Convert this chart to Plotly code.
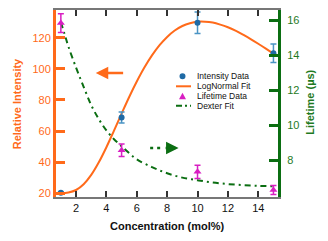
import plotly.graph_objects as go

# ---- data ----
conc = [1, 5, 10, 15]
intensity = [20.4, 68.7, 129.6, 110.0]
intensity_err = [0.5, 3.6, 6.9, 6.0]
lifetime = [15.85, 8.57, 7.33, 6.29]
lifetime_err = [0.54, 0.36, 0.38, 0.26]

lognorm_x = [1, 1.5, 2, 2.5, 3, 3.5, 4, 4.5, 5, 5.5, 6, 6.5, 7, 7.5, 8, 8.5, 9,
             9.5, 10, 10.5, 11, 11.5, 12, 12.5, 13, 13.5, 14, 14.5, 15]
lognorm_y = [20.0, 20.5, 22.1, 25.8, 31.8, 39.9, 49.6, 60.3, 71.2, 81.9, 91.8,
             100.8, 108.6, 115.2, 120.5, 124.6, 127.5, 129.3, 130.3, 130.3,
             129.7, 128.4, 126.7, 124.5, 121.9, 119.1, 116.1, 113.0, 109.7]

dexter_x = [1.0, 1.25, 1.5, 2.0, 2.5, 3.0, 3.5, 4.0, 4.5, 5.0, 5.5, 6.0, 7.0,
            8.0, 9.0, 10, 11, 12, 13, 14, 15]
dexter_y = [15.9, 15.2, 14.5, 13.3, 12.2, 11.15, 10.35, 9.7, 9.2, 8.8, 8.4,
            8.05, 7.6, 7.25, 7.0, 6.85, 6.72, 6.63, 6.57, 6.53, 6.5]

x_ticks = [2, 4, 6, 8, 10, 12, 14]
y_ticks = [20, 40, 60, 80, 100, 120]
y2_ticks = [8, 10, 12, 14, 16]

ORANGE = "#ff6a1a"
GREEN = "#0b6e12"
GREEN_TXT = "#1f7a1f"
BLUE = "#1f6aa5"
BLUE_ERR = "#4a94c4"
MAGENTA = "#d81fc2"
FONT = "Liberation Sans, Arial, sans-serif"

fig = go.Figure()

fig.add_trace(go.Scatter(x=lognorm_x, y=lognorm_y, mode="lines", line_shape="spline",
                         line=dict(color=ORANGE, width=2), name="LogNormal Fit"))
fig.add_trace(go.Scatter(x=conc, y=intensity, mode="markers",
                         marker=dict(color=BLUE, size=6, symbol="circle"),
                         error_y=dict(type="data", array=intensity_err, color=BLUE_ERR,
                                      thickness=1.5, width=3),
                         name="Intensity Data"))
fig.add_trace(go.Scatter(x=dexter_x, y=dexter_y, mode="lines", line_shape="spline",
                         line=dict(color=GREEN, width=2, dash="6px,4px,2px,4px"),
                         yaxis="y2", name="Dexter Fit"))
fig.add_trace(go.Scatter(x=conc, y=lifetime, mode="markers",
                         marker=dict(color=MAGENTA, size=7, symbol="triangle-up"),
                         error_y=dict(type="data", array=lifetime_err, color=MAGENTA,
                                      thickness=1.5, width=3),
                         yaxis="y2", name="Lifetime Data"))

L, R, T, B = 56, 278, 9.5, 197
W, H = R - L, B - T


def px(xp):
    return (xp - L) / W


def py(yp):
    return (B - yp) / H


shapes = []
annotations = []

# manual legend
leg_items = [("Intensity Data", 76), ("LogNormal Fit", 86), ("Lifetime Data", 96), ("Dexter Fit", 105.5)]
for text, yy in leg_items:
    annotations.append(dict(x=px(195), y=py(yy), xref="paper", yref="paper", text=text,
                            showarrow=False, xanchor="left", yanchor="middle",
                            font=dict(family=FONT, size=8.5, color="#111")))
shapes.append(dict(type="circle", xref="paper", yref="paper", x0=px(179.5), x1=px(185.5),
                   y0=py(79), y1=py(73), fillcolor=BLUE, line=dict(width=0)))
shapes.append(dict(type="line", xref="paper", yref="paper", x0=px(176), x1=px(191),
                   y0=py(86), y1=py(86), line=dict(color=ORANGE, width=2)))
shapes.append(dict(type="path", xref="paper", yref="paper",
                   path=f"M {px(179)},{py(99)} L {px(186)},{py(99)} L {px(182.5)},{py(92.5)} Z",
                   fillcolor=MAGENTA, line=dict(width=0)))
shapes.append(dict(type="line", xref="paper", yref="paper", x0=px(176), x1=px(191),
                   y0=py(105.5), y1=py(105.5), line=dict(color=GREEN, width=2, dash="6px,3px,2px,3px")))

# arrows
annotations.append(dict(x=3.3, y=97.3, ax=5.2, ay=97.3, xref="x", yref="y", axref="x", ayref="y",
                        showarrow=True, arrowhead=2, arrowsize=1, arrowwidth=2.5,
                        arrowcolor=ORANGE, text=""))
shapes.append(dict(type="line", xref="x", yref="y2", x0=6.88, x1=7.6, y0=8.7, y1=8.7,
                   line=dict(color=GREEN, width=2.5, dash="3px,4px")))
annotations.append(dict(x=8.75, y=8.7, ax=7.8, ay=8.7, xref="x", yref="y2", axref="x", ayref="y2",
                        showarrow=True, arrowhead=2, arrowsize=1, arrowwidth=2.5,
                        arrowcolor=GREEN, text=""))

# axis titles
annotations.append(dict(x=px(167), y=py(226.5), xref="paper", yref="paper",
                        text="<b>Concentration (mol%)</b>", showarrow=False,
                        xanchor="center", yanchor="middle",
                        font=dict(family=FONT, size=11, color="#111")))
annotations.append(dict(x=px(16.5), y=py(103.5), xref="paper", yref="paper",
                        text="<b>Relative Intensity</b>", showarrow=False, textangle=-90,
                        xanchor="center", yanchor="middle",
                        font=dict(family=FONT, size=11, color=ORANGE)))
annotations.append(dict(x=px(310), y=py(102.5), xref="paper", yref="paper",
                        text="<b>Lifetime (µs)</b>", showarrow=False, textangle=-90,
                        xanchor="center", yanchor="middle",
                        font=dict(family=FONT, size=11, color=GREEN_TXT)))

fig.update_layout(
    width=328, height=241,
    margin=dict(l=L, r=328 - R, t=T, b=241 - B),
    paper_bgcolor="white", plot_bgcolor="white",
    showlegend=False,
    font=dict(family=FONT, size=11),
    shapes=shapes, annotations=annotations,
    xaxis=dict(range=[0.68, 15.3], tickvals=x_ticks, ticks="inside", ticklen=6,
               tickwidth=1.5, tickcolor="#333", showline=True, linecolor="#777",
               linewidth=1.5, mirror="ticks", showgrid=False, zeroline=False,
               tickfont=dict(family=FONT, size=11, color="#111")),
    yaxis=dict(range=[17.6, 137.8], tickvals=y_ticks, ticks="inside", ticklen=9,
               tickwidth=3, tickcolor=ORANGE, showline=True, linecolor=ORANGE,
               linewidth=3, showgrid=False, zeroline=False,
               tickfont=dict(family=FONT, size=11, color=ORANGE)),
    yaxis2=dict(range=[5.89, 16.6], tickvals=y2_ticks, overlaying="y", side="right",
                ticks="inside", ticklen=9, tickwidth=3, tickcolor=GREEN, showline=True,
                linecolor=GREEN, linewidth=3, showgrid=False, zeroline=False,
                ticklabelstandoff=4,
                tickfont=dict(family=FONT, size=11, color=GREEN_TXT)),
)

fig.write_html("out.html", config={"displayModeBar": False},
               post_script="document.body.style.margin='0px';document.body.style.overflow='hidden';")
